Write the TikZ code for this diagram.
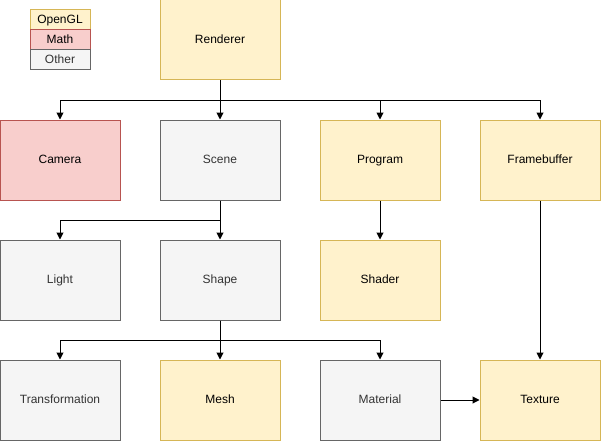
\documentclass[tikz,border=0pt]{standalone}
\usepackage{fontspec}
\setmainfont{Liberation Sans}
\usetikzlibrary{arrows.meta}
\definecolor{glfill}{HTML}{FFF2CC}
\definecolor{gldraw}{HTML}{D6B656}
\definecolor{mathfill}{HTML}{F8CECC}
\definecolor{mathdraw}{HTML}{B85450}
\definecolor{otherfill}{HTML}{F5F5F5}
\definecolor{otherdraw}{HTML}{666666}
\definecolor{othertext}{HTML}{333333}
\tikzset{
  box/.style={draw, line width=1pt, minimum width=120pt, minimum height=80pt, inner sep=0pt, text height=1.6ex, text depth=0.4ex, font=\fontsize{12}{14}\selectfont},
  key/.style={box, minimum width=60pt, minimum height=20pt},
  gl/.style={fill=glfill, draw=gldraw, text=black},
  math/.style={fill=mathfill, draw=mathdraw, text=black},
  other/.style={fill=otherfill, draw=otherdraw, text=othertext},
  conn/.style={line width=1pt, -{Triangle[width=7pt,length=7pt]}},
}
\begin{document}
\begin{tikzpicture}[x=1pt,y=-1pt]
    \useasboundingbox (0,0) rectangle (601,441);
    % legend
    \node[key,gl] (kgl) at (60,20) {OpenGL};
    \node[key,math] (kmath) at (60,40) {Math};
    \node[key,other] (kother) at (60,60) {Other};
    % boxes
    \node[box,gl] (rend) at (220,40) {Renderer};
    \node[box,math] (cam) at (60,160) {Camera};
    \node[box,other] (scene) at (220,160) {Scene};
    \node[box,gl] (prog) at (380,160) {Program};
    \node[box,gl] (fbuf) at (540,160) {Framebuffer};
    \node[box,other] (light) at (60,280) {Light};
    \node[box,other] (shape) at (220,280) {Shape};
    \node[box,gl] (shader) at (380,280) {Shader};
    \node[box,other] (trans) at (60,400) {Transformation};
    \node[box,gl] (mesh) at (220,400) {Mesh};
    \node[box,other] (mat) at (380,400) {Material};
    \node[box,gl] (tex) at (540,400) {Texture};
    % connectors
    \draw[conn] (rend.south) -- ++(0,-20pt) -| (cam.north);
    \draw[conn] (rend.south) -- (scene.north);
    \draw[conn] (rend.south) -- ++(0,-20pt) -| (prog.north);
    \draw[conn] (rend.south) -- ++(0,-20pt) -| (fbuf.north);
    \draw[conn] (scene.south) -- ++(0,-20pt) -| (light.north);
    \draw[conn] (scene.south) -- (shape.north);
    \draw[conn] (prog.south) -- (shader.north);
    \draw[conn] (shape.south) -- ++(0,-20pt) -| (trans.north);
    \draw[conn] (shape.south) -- (mesh.north);
    \draw[conn] (shape.south) -- ++(0,-20pt) -| (mat.north);
    \draw[conn] (fbuf.south) -- (tex.north);
    \draw[conn] (mat.east) -- (tex.west);
\end{tikzpicture}
\end{document}
